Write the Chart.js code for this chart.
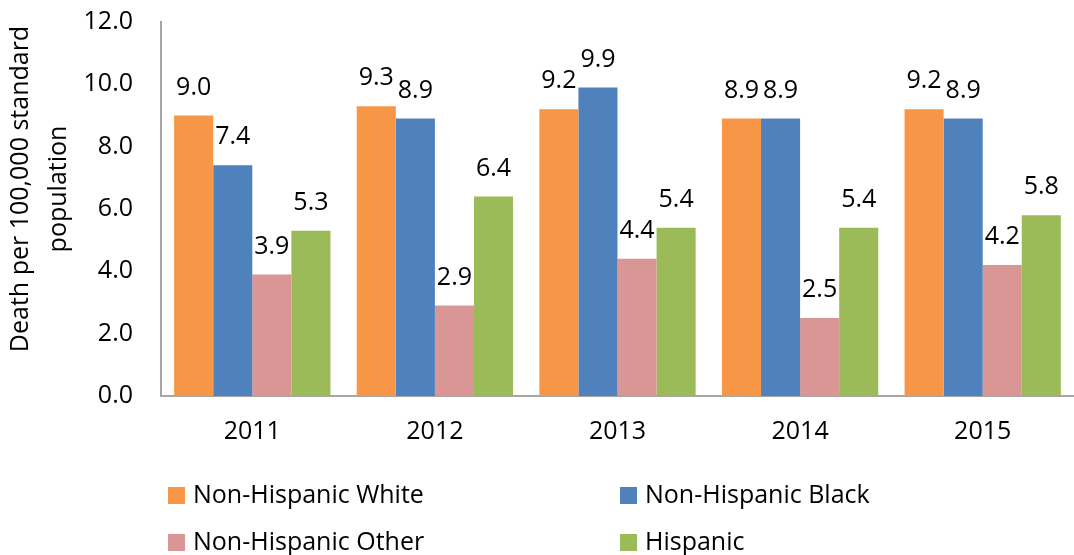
<!DOCTYPE html>
<html>
<head>
<meta charset="utf-8">
<script src="https://cdn.jsdelivr.net/npm/chart.js@4.4.1/dist/chart.umd.min.js"></script>
<style>
  html, body { margin: 0; padding: 0; background: #fff; }
  #wrap { width: 1074px; height: 555px; }
</style>
</head>
<body>
<div id="wrap"><canvas id="bar-chart-canvas" width="1074" height="555"></canvas></div>
<script>
const years = ['2011', '2012', '2013', '2014', '2015'];
const seriesNames = ['Non-Hispanic White', 'Non-Hispanic Black', 'Non-Hispanic Other', 'Hispanic'];
const whiteRates = [9.0, 9.3, 9.2, 8.9, 9.2];
const blackRates = [7.4, 8.9, 9.9, 8.9, 8.9];
const otherRates = [3.9, 2.9, 4.4, 2.5, 4.2];
const hispanicRates = [5.3, 6.4, 5.4, 5.4, 5.8];
const yTicks = [0, 2, 4, 6, 8, 10, 12];
const yTitle = ['Death per 100,000 standard', 'population'];

const colors = ['#F79646', '#4F81BD', '#D99694', '#9BBB59'];
const fontFamily = '"Open Sans", sans-serif';
const fontSize = 25;
Chart.defaults.font.family = fontFamily;
Chart.defaults.color = '#000';

// value written above every bar
const valueLabels = {
    id: 'valueLabels',
    afterDatasetsDraw(chart) {
        const ctx = chart.ctx;
        ctx.save();
        ctx.font = fontSize + 'px ' + fontFamily;
        ctx.fillStyle = '#000';
        ctx.textAlign = 'center';
        ctx.textBaseline = 'middle';
        chart.data.datasets.forEach((ds, i) => {
            chart.getDatasetMeta(i).data.forEach((bar, j) => {
                ctx.fillText(ds.data[j].toFixed(1), bar.x, bar.y - 28);
            });
        });
        ctx.restore();
    }
};

// rotated y-axis title, sitting a little above the middle of the axis
const axisTitle = {
    id: 'axisTitle',
    afterDraw(chart) {
        const ctx = chart.ctx;
        const area = chart.chartArea;
        const midY = (area.top + area.bottom) / 2 - 20;
        ctx.save();
        ctx.font = fontSize + 'px ' + fontFamily;
        ctx.fillStyle = '#000';
        ctx.textAlign = 'center';
        ctx.textBaseline = 'middle';
        ctx.translate(21, midY);
        ctx.rotate(-Math.PI / 2);
        yTitle.forEach((line, i) => ctx.fillText(line, 0, i * 38));
        ctx.restore();
    }
};

// two-column legend under the axis
const gridLegend = {
    id: 'gridLegend',
    afterDraw(chart) {
        const ctx = chart.ctx;
        const left = chart.chartArea.left;
        const colX = [left + 7, left + 459];
        const rowY = [495, 542];
        ctx.save();
        ctx.font = fontSize + 'px ' + fontFamily;
        ctx.textBaseline = 'middle';
        ctx.textAlign = 'left';
        chart.data.datasets.forEach((ds, i) => {
            const x = colX[i % 2];
            const y = rowY[Math.floor(i / 2)];
            ctx.fillStyle = ds.backgroundColor;
            ctx.fillRect(x, y - 8, 17, 17);
            ctx.fillStyle = '#000';
            ctx.fillText(ds.label, x + 25, y + 1);
        });
        ctx.restore();
    }
};

const context = document.getElementById('bar-chart-canvas');
const allRates = [whiteRates, blackRates, otherRates, hispanicRates];
const data = {
    labels: years,
    datasets: seriesNames.map((name, i) => ({
        label: name,
        data: allRates[i],
        backgroundColor: colors[i],
        categoryPercentage: 0.856,
        barPercentage: 1.0
    }))
};

const barChart = new Chart(context, {
    type: 'bar',
    data: data,
    options: {
        responsive: false,
        animation: false,
        devicePixelRatio: 1,
        layout: { padding: { top: 22, right: 0, bottom: 99, left: 0 } },
        plugins: {
            legend: { display: false },
            tooltip: { enabled: false }
        },
        scales: {
            x: {
                grid: { display: false, drawTicks: false },
                border: { display: true, color: '#A6A6A6', width: 2 },
                ticks: { font: { size: fontSize }, padding: 21, color: '#000' },
                afterFit: s => { s.height = 60; }
            },
            y: {
                min: 0,
                max: 12,
                afterBuildTicks: s => { s.ticks = yTicks.map(v => ({ value: v })); },
                grid: { display: false, drawTicks: false },
                border: { display: true, color: '#A6A6A6', width: 2 },
                ticks: {
                    font: { size: fontSize },
                    padding: 28,
                    color: '#000',
                    callback: v => Number(v).toFixed(1)
                },
                afterFit: s => {
                    s.width = 161;
                    s.paddingTop = 0;
                    s.paddingBottom = 0;
                }
            }
        }
    },
    plugins: [valueLabels, axisTitle, gridLegend]
});
</script>
</body>
</html>
